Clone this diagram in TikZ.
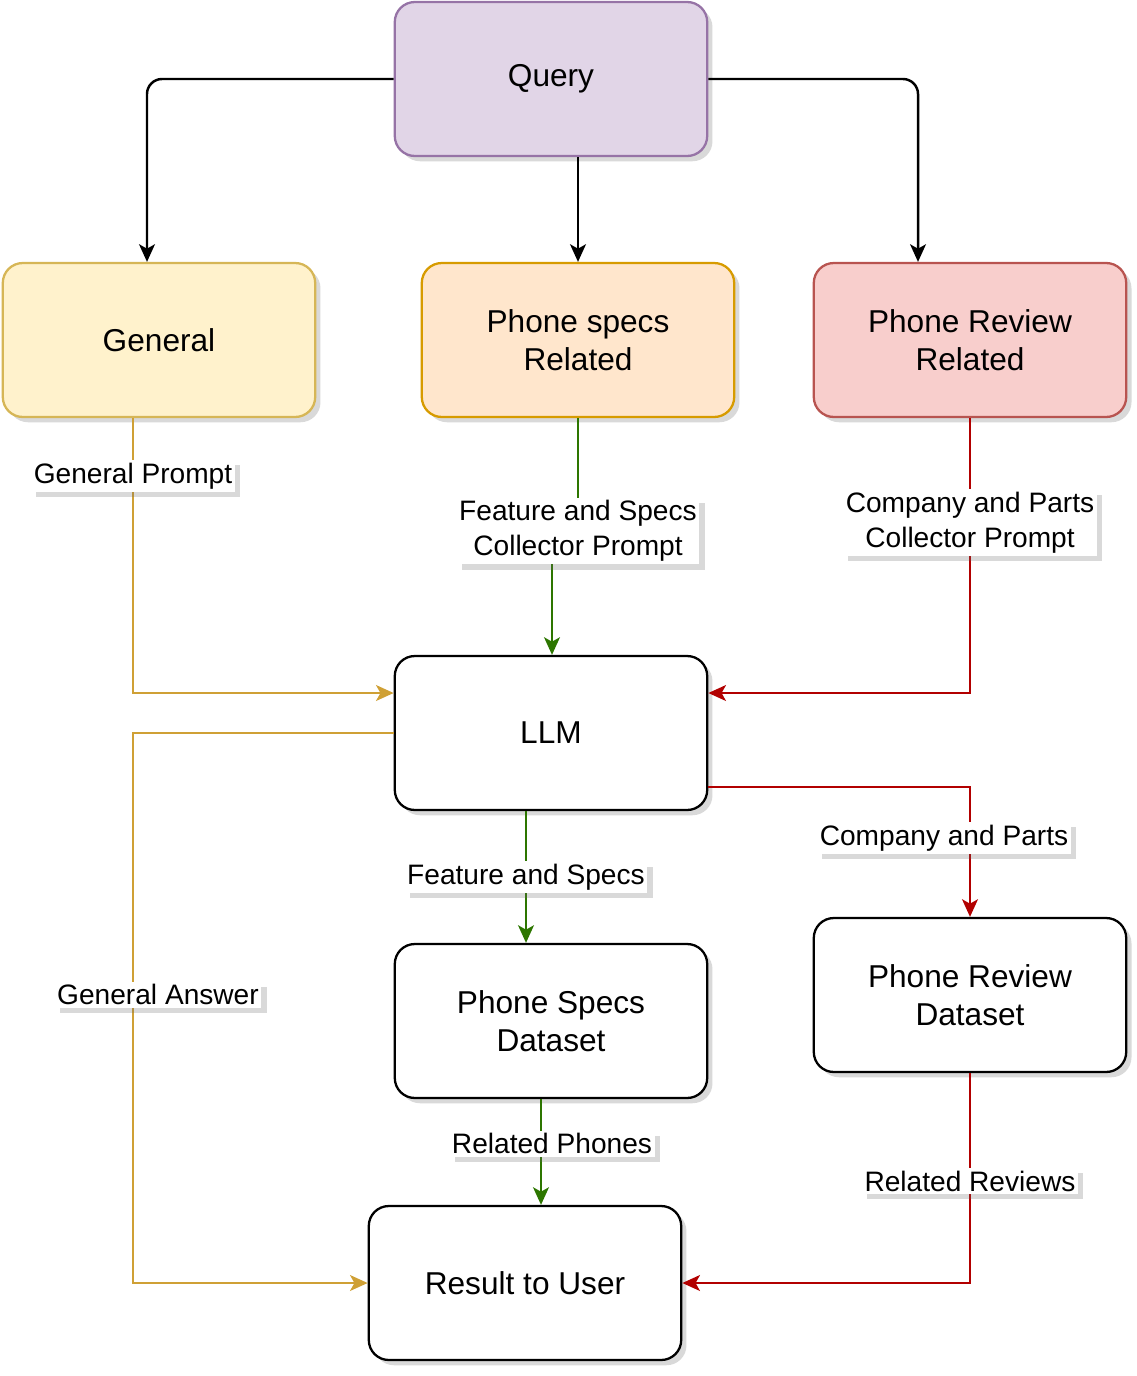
\documentclass[tikz,border=0pt]{standalone}
\usepackage{fontspec}
\setmainfont{Liberation Sans}
\usetikzlibrary{positioning,arrows.meta,shadows}

\definecolor{qfill}{HTML}{E1D5E7}
\definecolor{qline}{HTML}{9673A6}
\definecolor{gfill}{HTML}{FFF2CC}
\definecolor{gline}{HTML}{D6B656}
\definecolor{sfill}{HTML}{FFE6CC}
\definecolor{sline}{HTML}{D79B00}
\definecolor{rfill}{HTML}{F8CECC}
\definecolor{rline}{HTML}{B85450}
\definecolor{goldarr}{HTML}{CFA035}
\definecolor{greenarr}{HTML}{2D7600}
\definecolor{redarr}{HTML}{B20000}

\begin{document}
\begin{tikzpicture}[
  x=0.02cm, y=-0.02cm,
  box/.style={draw, line width=1.3pt, rounded corners=0.4cm, align=center,
    minimum width=6.25cm, minimum height=3.08cm, fill=white,
    font=\fontsize{18}{21.5}\selectfont,
    drop shadow={shadow xshift=3pt, shadow yshift=-3pt, opacity=0.25, fill=black!60}},
  lbl/.style={fill=white, text=black, align=center, inner sep=1.5pt,
    font=\fontsize{16}{20}\selectfont,
    drop shadow={shadow xshift=3pt, shadow yshift=-3pt, opacity=0.25, fill=black!60}},
  arrow/.style={-{Stealth[length=10pt, width=9pt, inset=2.5pt]}, line width=1.4pt},
  blk/.style={arrow, black, rounded corners=0.3cm},
  gld/.style={arrow, goldarr},
  grn/.style={arrow, greenarr},
  rd/.style={arrow, redarr}
]
\useasboundingbox (0,0) rectangle (1136,1376);

% top row
\node[box, fill=qfill, draw=qline] (query) at (551,79) {Query};
\node[box, fill=gfill, draw=gline] (general) at (159,340) {General};
\node[box, fill=sfill, draw=sline] (specs) at (578,340) {Phone specs\\Related};
\node[box, fill=rfill, draw=rline] (review) at (970,340) {Phone Review\\Related};

% middle and bottom
\node[box] (llm) at (551,733) {LLM};
\node[box] (dsspecs) at (551,1021) {Phone Specs\\Dataset};
\node[box] (dsreview) at (970,995) {Phone Review\\Dataset};
\node[box] (result) at (525,1283) {Result to User};

% query routing
\draw[blk] (query.west) -| ([xshift=-0.24cm]general.north);
\draw[blk] (query.south -| specs) -- (specs.north);
\draw[blk] (query.east) -| ([xshift=-1.04cm]review.north);

% prompts into the LLM
\draw[gld] ([xshift=-0.52cm]general.south) |- node[lbl, pos=0.105] {General Prompt} ([yshift=0.8cm]llm.west);
\coordinate (fsjog) at (552,545);
\draw[grn] (specs.south) |- (fsjog) -- (fsjog |- llm.north);
\node[lbl] (fsprompt) at (578,531) {Feature and Specs\\Collector Prompt};
\draw[rd] (review.south) |- node[lbl, pos=0.19] {Company and Parts\\Collector Prompt} ([yshift=0.8cm]llm.east);

% LLM outputs
\draw[gld] (llm.west) -| ([xshift=-0.52cm]general.south |- result.west)
  node[lbl, pos=0.738, xshift=0.5cm] {General Answer} -- (result.west);
\draw[grn] ([xshift=-0.5cm]llm.south) -- node[lbl] {Feature and Specs} ([xshift=-0.5cm]dsspecs.north);
\draw[rd] ([yshift=-1.08cm]llm.east) -| node[lbl, pos=0.696, xshift=-0.52cm] {Company and Parts} (dsreview.north);

% datasets to result
\draw[grn] ([xshift=-0.2cm]dsspecs.south) -- node[lbl, pos=0.42, xshift=0.22cm] {Related Phones} ([xshift=-0.2cm]dsspecs.south |- result.north);
\draw[rd] (dsreview.south) |- node[lbl, pos=0.257] {Related Reviews} (result.east);
\end{tikzpicture}
\end{document}
